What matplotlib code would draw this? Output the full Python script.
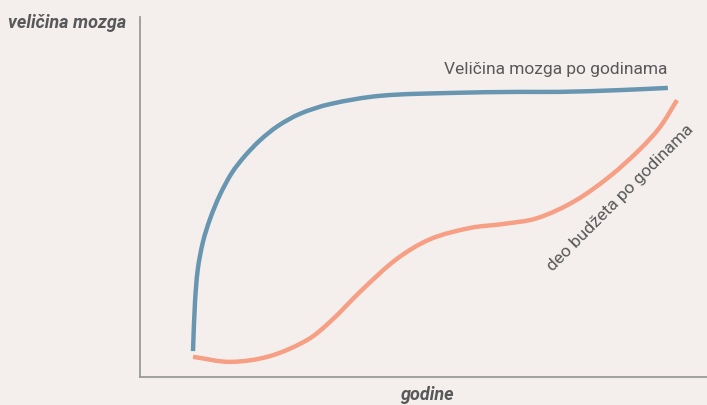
import matplotlib
matplotlib.use("Agg")
import matplotlib.pyplot as plt
from matplotlib.path import Path
from matplotlib.patches import PathPatch

# brain size over the years (x = years, y = size)
brain_x = [9.35, 9.7, 10.2, 11.1, 12.35, 14.1, 16.2, 18.5, 21.2, 24.3, 28.2, 33.5, 42.3, 54.7, 67.0, 74.1, 84.7, 93.1]
brain_y = [7.2, 20.8, 30.0, 37.5, 43.9, 50.6, 56.7, 61.4, 65.8, 69.7, 73.1, 75.8, 78.1, 78.9, 79.2, 79.2, 79.7, 80.3]

# share of the budget over the years
budget_x = [9.35, 15.9, 22.9, 29.5, 33.5, 39.3, 45.3, 51.2, 58.2, 64.0, 70.0, 76.7, 82.9, 88.2, 91.7, 94.7]
budget_y = [5.6, 4.2, 5.8, 10.3, 15.3, 24.4, 32.8, 38.3, 41.4, 42.5, 44.1, 48.9, 55.8, 63.3, 69.4, 76.9]

BG = "#f4efec"
TXT = "#58585a"
FONT = ["Roboto", "DejaVu Sans"]


def smooth_path(xs, ys):
    # bezier through the read points, tangents weighted by chord length
    pts = list(zip(xs, ys))
    n = len(pts)

    def dist(a, b):
        return (((a[0] - b[0]) * 1.575) ** 2 + (a[1] - b[1]) ** 2) ** 0.5

    tans = []
    for i in range(n):
        a = pts[max(i - 1, 0)]
        b = pts[min(i + 1, n - 1)]
        d = dist(a, pts[i]) + dist(pts[i], b)
        tans.append(((b[0] - a[0]) / d, (b[1] - a[1]) / d))

    verts = [pts[0]]
    codes = [Path.MOVETO]
    for i in range(n - 1):
        p1, p2 = pts[i], pts[i + 1]
        d = dist(p1, p2) / 3
        c1 = (p1[0] + tans[i][0] * d, p1[1] + tans[i][1] * d)
        c2 = (p2[0] - tans[i + 1][0] * d, p2[1] - tans[i + 1][1] * d)
        verts += [c1, c2, p2]
        codes += [Path.CURVE4] * 3
    return Path(verts, codes)


fig = plt.figure(figsize=(7.07, 4.06), dpi=100, facecolor=BG)
ax = fig.add_axes([140 / 707, 28 / 406, 567 / 707, 360 / 406])
ax.set_facecolor(BG)

ax.add_patch(PathPatch(smooth_path(brain_x, brain_y), fill=False,
                       edgecolor="#6896b0", lw=3.2, capstyle="butt"))
ax.add_patch(PathPatch(smooth_path(budget_x, budget_y), fill=False,
                       edgecolor="#f69f84", lw=3.2, capstyle="butt"))

ax.set_xlim(0, 100)
ax.set_ylim(0, 100)
ax.set_xticks([])
ax.set_yticks([])
for side in ["top", "right"]:
    ax.spines[side].set_visible(False)
for side in ["left", "bottom"]:
    ax.spines[side].set_color("#9a9a9a")
    ax.spines[side].set_linewidth(1.3)

ax.text(73.4, 85.8, "Veličina mozga po godinama", fontsize=12.5, color=TXT,
        family=FONT, ha="center", va="center")
ax.text(84.7, 50, "deo budžeta po godinama", fontsize=12.5, color=TXT,
        family=FONT, ha="center", va="center", rotation=45,
        rotation_mode="anchor")

fig.text(8 / 707, 1 - 23 / 406, "veličina mozga", fontsize=13, color=TXT,
         family=FONT, weight="bold", style="italic", ha="left", va="center")
fig.text(427 / 707, 1 - 395 / 406, "godine", fontsize=13, color=TXT,
         family=FONT, weight="bold", style="italic", ha="center", va="center")

fig.savefig("out.png", dpi=100, facecolor=BG)
